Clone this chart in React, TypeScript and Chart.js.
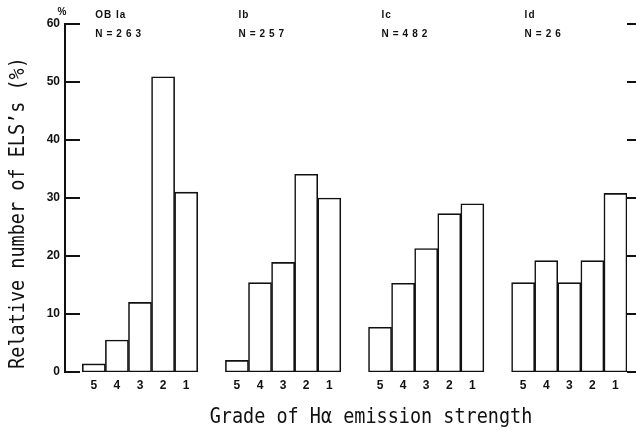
import React, { useEffect, useRef } from "react";
import { Chart, registerables } from "chart.js";

Chart.register(...registerables);

// ---- data ----
const GRADES = ["5", "4", "3", "2", "1"];
const PANEL_NAMES = ["OB Ia", "Ib", "Ic", "Id"];
const PANEL_N = [263, 257, 482, 26];
const OB_IA = [1.4, 5.5, 12.0, 50.9, 31.0];
const IB = [2.0, 15.4, 18.9, 34.1, 30.0];
const IC = [7.7, 15.3, 21.3, 27.3, 29.0];
const ID = [15.4, 19.2, 15.4, 19.2, 30.8];
const Y_TICKS = [0, 10, 20, 30, 40, 50, 60];
const X_TITLE = "Grade of H\u03b1 emission strength";
const Y_TITLE = "Relative number of ELS\u2019s (%)";

const PANELS = [OB_IA, IB, IC, ID];
const PANEL_STEP = 6.2; // spacing of panels on the x scale (bar = 1 unit)

const positions: number[] = [];
const barData: { x: number; y: number }[] = [];
PANELS.forEach((vals, p) => {
  vals.forEach((v, i) => {
    const x = p * PANEL_STEP + i;
    positions.push(x);
    barData.push({ x, y: v });
  });
});

const INK = "#111";

const annotate = {
  id: "annotate",
  afterDraw(chart: any) {
    const { ctx, chartArea, scales } = chart;
    const xs = scales.x;
    const ys = scales.y;
    ctx.save();
    // inward ticks on the left axis
    ctx.strokeStyle = INK;
    ctx.lineWidth = 2;
    Y_TICKS.forEach((v) => {
      const py = Math.round(ys.getPixelForValue(v));
      ctx.beginPath();
      ctx.moveTo(chartArea.left, py);
      ctx.lineTo(chartArea.left + 15, py);
      ctx.stroke();
    });
    ctx.fillStyle = INK;
    ctx.font = 'bold 10px "Liberation Sans"';
    ctx.textBaseline = "middle";
    ctx.textAlign = "center";
    ctx.fillText("%", chartArea.left - 3, 12);
    ctx.textAlign = "left";
    PANEL_NAMES.forEach((name, p) => {
      const px = xs.getPixelForValue(p * PANEL_STEP - 0.5) + 13;
      ctx.letterSpacing = "1px";
      ctx.fillText(name, px, 15);
      ctx.letterSpacing = "4px";
      ctx.fillText("N=" + PANEL_N[p], px, 34);
    });
    ctx.letterSpacing = "0px";
    // axis titles
    ctx.font = '21px "DejaVu Sans Mono"';
    ctx.textBaseline = "alphabetic";
    ctx.textAlign = "center";
    ctx.save();
    ctx.translate((chartArea.left + chartArea.right) / 2 + 25, 423);
    ctx.scale(0.88, 1);
    ctx.fillText(X_TITLE, 0, 0);
    ctx.restore();
    ctx.save();
    ctx.translate(24, (chartArea.top + chartArea.bottom) / 2 + 15);
    ctx.rotate(-Math.PI / 2);
    ctx.scale(0.88, 1);
    ctx.fillText(Y_TITLE, 0, 0);
    ctx.restore();
    ctx.restore();
  },
};

export default function App() {
  const ref = useRef<HTMLCanvasElement>(null);
  useEffect(() => {
    if (!ref.current) return;
    const chart = new Chart(ref.current, {
      type: "bar",
      data: {
        datasets: [
          {
            data: barData as any,
            backgroundColor: "#ffffff",
            borderColor: INK,
            borderWidth: 1.6,
            borderSkipped: false,
            barPercentage: 1,
            categoryPercentage: 1,
          },
        ],
      },
      options: {
        responsive: false,
        devicePixelRatio: 1,
        animation: false,
        layout: { padding: { top: 24, right: 0, bottom: 0, left: 0 } },
        plugins: { legend: { display: false }, tooltip: { enabled: false } },
        scales: {
          x: {
            type: "linear",
            offset: false,
            min: -1.25,
            max: 23.1,
            grid: { display: false, drawTicks: false, offset: false },
            border: { display: false },
            afterBuildTicks: (axis: any) => {
              axis.ticks = positions.map((v) => ({ value: v }));
            },
            afterFit: (s: any) => {
              s.height = 58;
            },
            ticks: {
              autoSkip: false,
              maxRotation: 0,
              padding: 6,
              color: INK,
              font: { family: "Liberation Sans", weight: "bold", size: 12 },
              callback: (_v: any, i: number) => GRADES[i % GRADES.length],
            },
          },
          y: {
            type: "linear",
            position: "left",
            min: 0,
            max: 60,
            grid: { display: false, drawTicks: false },
            border: { display: true, color: INK, width: 2 },
            afterFit: (s: any) => {
              s.width = 65;
            },
            ticks: {
              stepSize: 10,
              padding: 5,
              color: INK,
              font: { family: "Liberation Sans", weight: "bold", size: 12 },
            },
          },
          y2: {
            type: "linear",
            position: "right",
            min: 0,
            max: 60,
            grid: {
              drawOnChartArea: false,
              drawTicks: true,
              tickLength: 9,
              color: INK,
              lineWidth: 2,
            },
            border: { display: false },
            afterFit: (s: any) => {
              s.width = 9;
            },
            ticks: { stepSize: 10, display: false },
          },
        },
      } as any,
      plugins: [annotate],
    });
    return () => chart.destroy();
  }, []);
  return (
    <div
      style={{
        position: "absolute",
        left: 0,
        top: 0,
        width: 636,
        height: 430,
        background: "#ffffff",
      }}
    >
      <canvas ref={ref} width={636} height={430} style={{ display: "block" }} />
    </div>
  );
}
